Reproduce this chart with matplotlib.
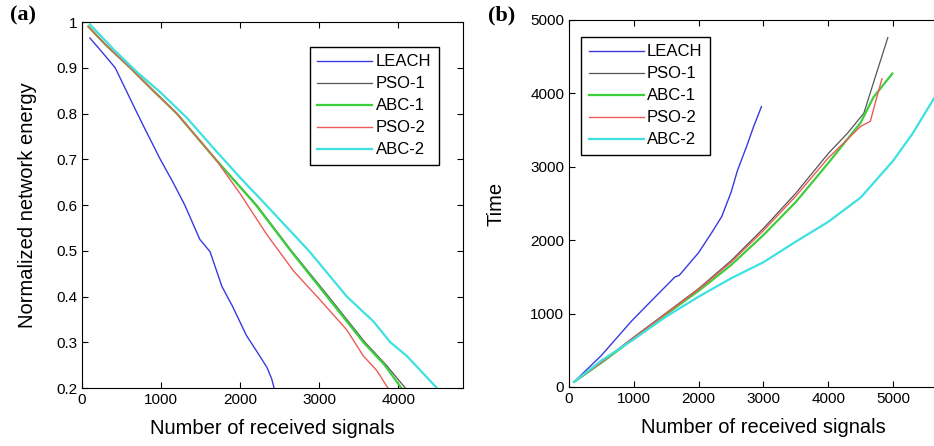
import numpy as np
import matplotlib.pyplot as plt

plt.rcParams['font.family'] = ['Liberation Sans', 'DejaVu Sans']

labels = ['LEACH', 'PSO-1', 'ABC-1', 'PSO-2', 'ABC-2']
colors = ['#3a3ae0', '#555555', '#3ccf3c', '#ee5a5a', '#3fe0e0']
widths = [1.0, 0.9, 1.6, 1.0, 1.6]

# (a) normalized network energy vs number of received signals
energy_x = [
    [100, 250, 420, 560, 700, 800, 990, 1150, 1300, 1490, 1620, 1770, 1900, 2080, 2230, 2340, 2400, 2430],
    [80, 300, 610, 900, 1200, 1690, 2210, 2650, 3120, 3580, 3850, 4090],
    [80, 300, 610, 900, 1200, 1690, 2200, 2640, 3100, 3560, 3830, 4040],
    [80, 300, 610, 900, 1200, 1690, 2000, 2340, 2680, 3010, 3350, 3560, 3730, 3870],
    [100, 400, 700, 1000, 1330, 1660, 2000, 2340, 2870, 3350, 3690, 3900, 4110, 4300, 4490],
]
energy_y = [
    [0.965, 0.935, 0.9, 0.85, 0.8, 0.765, 0.7, 0.65, 0.6, 0.525, 0.498, 0.422, 0.38, 0.315, 0.275, 0.245, 0.22, 0.2],
    [0.99, 0.95, 0.9, 0.85, 0.8, 0.7, 0.6, 0.5, 0.4, 0.3, 0.25, 0.2],
    [0.99, 0.95, 0.9, 0.85, 0.8, 0.7, 0.6, 0.5, 0.4, 0.3, 0.25, 0.2],
    [0.99, 0.95, 0.9, 0.85, 0.8, 0.7, 0.625, 0.535, 0.455, 0.393, 0.327, 0.27, 0.238, 0.2],
    [0.995, 0.94, 0.89, 0.845, 0.79, 0.725, 0.66, 0.598, 0.5, 0.4, 0.345, 0.3, 0.27, 0.235, 0.2],
]

# (b) time vs number of received signals
time_x = [
    [80, 500, 967, 1300, 1636, 1700, 2000, 2200, 2356, 2500, 2600, 2750, 2850, 2970],
    [80, 500, 1000, 1500, 2000, 2500, 3000, 3500, 4000, 4300, 4550, 4700, 4920],
    [80, 500, 1000, 1500, 2000, 2500, 3000, 3500, 4000, 4500, 4700, 4990],
    [80, 500, 1000, 1500, 2000, 2500, 3000, 3500, 4000, 4500, 4650, 4750, 4830],
    [80, 500, 1000, 1500, 2000, 2500, 3000, 3500, 4000, 4500, 5000, 5300, 5700],
]
time_y = [
    [70, 430, 900, 1200, 1500, 1520, 1830, 2100, 2320, 2650, 2950, 3300, 3550, 3820],
    [70, 340, 680, 1010, 1340, 1720, 2160, 2640, 3180, 3460, 3730, 4150, 4760],
    [70, 330, 660, 990, 1310, 1660, 2070, 2520, 3050, 3600, 3950, 4270],
    [70, 335, 670, 1000, 1330, 1700, 2130, 2600, 3120, 3550, 3620, 3950, 4200],
    [70, 360, 650, 960, 1230, 1480, 1700, 1980, 2250, 2580, 3080, 3450, 4030],
]


def style_axes(ax):
    ax.tick_params(direction='in', length=4, top=True, right=True, labelsize=11)
    for s in ax.spines.values():
        s.set_linewidth(0.8)


def draw_panel(ax, xs, ys):
    for x, y, lab, c, w in zip(xs, ys, labels, colors, widths):
        ax.plot(x, y, color=c, lw=w, label=lab)


def add_legend(ax, anchor):
    leg = ax.legend(loc='upper left', bbox_to_anchor=anchor, borderaxespad=0,
                    fontsize=12, handlelength=3.3, labelspacing=0.42, fancybox=False,
                    edgecolor='black', framealpha=1, borderpad=0.45, handletextpad=0.2)
    leg.get_frame().set_linewidth(1.0)


fig = plt.figure(figsize=(9.34, 4.46), dpi=100)

ax1 = fig.add_axes([0.0878, 0.130, 0.4079, 0.8206])
draw_panel(ax1, energy_x, energy_y)
ax1.set_xlim(0, 4820)
ax1.set_ylim(0.2, 1.0)
ax1.set_xticks([0, 1000, 2000, 3000, 4000])
ax1.set_yticks([0.2, 0.3, 0.4, 0.5, 0.6, 0.7, 0.8, 0.9, 1.0])
ax1.set_yticklabels(['0.2', '0.3', '0.4', '0.5', '0.6', '0.7', '0.8', '0.9', '1'])
ax1.set_xlabel('Number of received signals', fontsize=14.5, labelpad=9)
ax1.set_ylabel('Normalized network energy', fontsize=14.5, labelpad=14)
style_axes(ax1)
add_legend(ax1, (0.598, 0.932))

ax2 = fig.add_axes([0.6092, 0.1323, 0.4163, 0.8229])
draw_panel(ax2, time_x, time_y)
ax2.set_xlim(0, 6000)
ax2.set_ylim(0, 5000)
ax2.set_xticks([0, 1000, 2000, 3000, 4000, 5000])
ax2.set_yticks([0, 1000, 2000, 3000, 4000, 5000])
ax2.set_xlabel('Number of received signals', fontsize=14.5, labelpad=9)
ax2.set_ylabel('Time', fontsize=14.5, labelpad=18)
style_axes(ax2)
add_legend(ax2, (0.031, 0.954))

fig.text(0.011, 0.965, '(a)', fontsize=16, fontweight='bold', family='Liberation Serif', va='center')
fig.text(0.522, 0.965, '(b)', fontsize=16, fontweight='bold', family='Liberation Serif', va='center')

fig.savefig('out.png', dpi=100)
